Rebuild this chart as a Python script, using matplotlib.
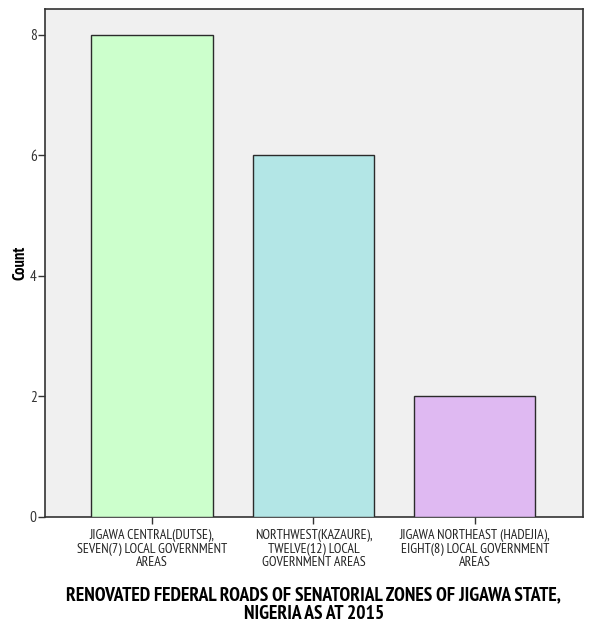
import matplotlib.pyplot as plt
from matplotlib import font_manager
import numpy as np

# zones and number of renovated federal roads
zones = [
    'JIGAWA CENTRAL(DUTSE),\nSEVEN(7) LOCAL GOVERNMENT\nAREAS',
    'NORTHWEST(KAZAURE),\nTWELVE(12) LOCAL\nGOVERNMENT AREAS',
    'JIGAWA NORTHEAST (HADEJIA),\nEIGHT(8) LOCAL GOVERNMENT\nAREAS',
]
counts = [8, 6, 2]
bar_colors = ['#ccffcc', '#b3e6e6', '#dfb9f2']
y_ticks = [0, 2, 4, 6, 8]


def pick_narrow():
    # narrow sans face that also has a real bold weight
    weights = {}
    for f in font_manager.fontManager.ttflist:
        w = f.weight if isinstance(f.weight, int) else (700 if 'bold' in str(f.weight) else 400)
        weights.setdefault(f.name, set()).add(w)
    for n in ['Liberation Sans Narrow', 'Arial Narrow', 'PT Sans Narrow', 'Archivo Narrow',
              'Roboto Condensed', 'Pragati Narrow', 'Encode Sans Condensed']:
        ws = weights.get(n, set())
        if ws and max(ws) >= 700 and min(ws) <= 400:
            return n
    return None


narrow = pick_narrow()
if narrow:
    plt.rcParams['font.family'] = [narrow, 'DejaVu Sans']
    tick_fs, title_fs, count_fs, y_fs = 10, 14, 12, 11
else:
    plt.rcParams['font.family'] = ['Liberation Sans', 'DejaVu Sans']
    tick_fs, title_fs, count_fs, y_fs = 7, 10.5, 10, 8

fig = plt.figure(figsize=(5.89, 6.25), dpi=100)
ax = fig.add_axes([0.0764, 0.1728, 0.9126, 0.8128])
ax.set_facecolor('#f0f0f0')

x = np.arange(len(zones))
ax.bar(x, counts, width=0.75, color=bar_colors, edgecolor='#2b2b2b', linewidth=1.0, zorder=3)

ax.set_xlim(-0.663, 2.667)
ax.set_ylim(0, 8.43)
ax.set_yticks(y_ticks)
ax.set_xticks(x)
ax.set_xticklabels(zones, fontsize=tick_fs, linespacing=1.0)
ax.tick_params(axis='y', labelsize=y_fs, length=5, width=1, color='#333333', labelcolor='#333333', pad=1)
ax.tick_params(axis='x', length=5, width=1, color='#333333', labelcolor='#222222', pad=4)

for s in ax.spines.values():
    s.set_color('#333333')
    s.set_linewidth(1.2)

ax.set_ylabel('Count', fontsize=count_fs, fontweight='bold', labelpad=1)
ax.set_xlabel('RENOVATED FEDERAL ROADS OF SENATORIAL ZONES OF JIGAWA STATE,\nNIGERIA AS AT 2015',
              fontsize=title_fs, fontweight='bold', labelpad=13, linespacing=1.0)

fig.savefig('out.png', dpi=100)
